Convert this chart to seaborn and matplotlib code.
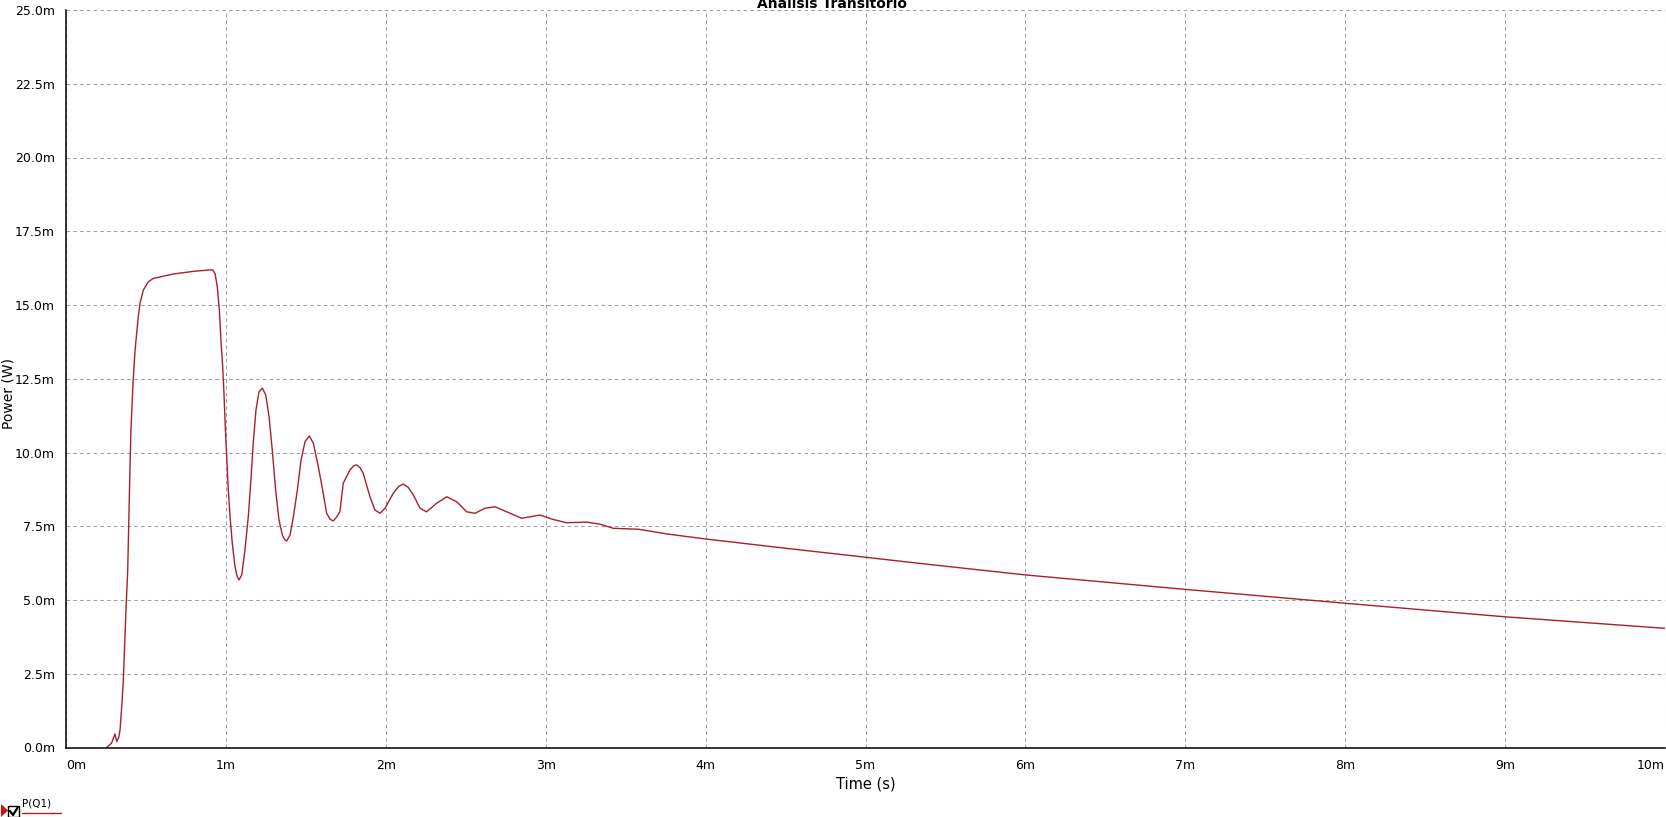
import matplotlib
matplotlib.use("Agg")
import matplotlib.pyplot as plt
import seaborn as sns
import pandas as pd
from matplotlib.patches import Polygon, Rectangle
from matplotlib.lines import Line2D

# ---- data (time in ms, power in mW) ----
time_ms = [0.254, 0.285, 0.306, 0.318, 0.330, 0.338, 0.350, 0.3585, 0.375, 0.386, 0.392,
           0.398, 0.406, 0.419, 0.432, 0.442, 0.452, 0.463, 0.484, 0.515, 0.546, 0.671, 0.796,
           0.901, 0.917, 0.932, 0.946, 0.959, 0.969, 0.980, 0.988, 0.996, 1.005, 1.015, 1.026,
           1.040, 1.057, 1.070, 1.082, 1.099, 1.119, 1.140, 1.155, 1.171, 1.188, 1.207, 1.228, 1.249,
           1.270, 1.290, 1.311, 1.332, 1.353, 1.367, 1.380, 1.401, 1.422, 1.447, 1.470, 1.495, 1.522,
           1.547, 1.578, 1.605, 1.630, 1.651, 1.672, 1.693, 1.713, 1.734, 1.776, 1.800, 1.818, 1.840, 1.859,
           1.901, 1.932, 1.964, 1.995, 2.047, 2.080, 2.109, 2.140, 2.172, 2.214, 2.255, 2.318, 2.381, 2.443,
           2.506, 2.558, 2.620, 2.683, 2.756, 2.850, 2.964, 3.047, 3.130, 3.256, 3.340, 3.423,
           3.579, 3.757, 3.998, 4.507, 4.999, 5.340, 6.000, 7.000, 7.405, 8.000, 9.000, 10.0]
power_mw = [0.0, 0.15, 0.46, 0.20, 0.35, 0.60, 1.50, 2.29, 4.66, 6.02, 7.49,
            8.96, 10.76, 12.35, 13.47, 14.04, 14.60, 15.06, 15.51, 15.79, 15.90, 16.05, 16.14,
            16.19, 16.19, 16.07, 15.62, 14.83, 13.81, 12.90, 12.00, 10.87, 9.86, 8.73, 7.82,
            6.92, 6.13, 5.80, 5.68, 5.85, 6.69, 7.82, 8.96, 10.31, 11.44, 12.06, 12.18, 11.95,
            11.21, 10.08, 8.73, 7.71, 7.20, 7.05, 7.00, 7.20, 7.82, 8.73, 9.75, 10.37, 10.56,
            10.31, 9.52, 8.73, 7.94, 7.74, 7.68, 7.82, 7.99, 8.96, 9.41, 9.55, 9.58, 9.48, 9.29,
            8.50, 8.05, 7.94, 8.11, 8.62, 8.85, 8.93, 8.82, 8.56, 8.11, 7.99, 8.28, 8.50, 8.33,
            7.99, 7.94, 8.11, 8.16, 7.99, 7.77, 7.88, 7.73, 7.62, 7.64, 7.57, 7.43,
            7.40, 7.24, 7.07, 6.75, 6.45, 6.24, 5.85, 5.36, 5.17, 4.89, 4.43, 4.04]

x_ticks = [0, 1, 2, 3, 4, 5, 6, 7, 8, 9, 10]
x_tick_labels = ["0m", "1m", "2m", "3m", "4m", "5m", "6m", "7m", "8m", "9m", "10m"]
y_ticks = [0, 2.5, 5, 7.5, 10, 12.5, 15, 17.5, 20, 22.5, 25]
y_tick_labels = ["0.0m", "2.5m", "5.0m", "7.5m", "10.0m", "12.5m", "15.0m", "17.5m",
                 "20.0m", "22.5m", "25.0m"]

title = "Análisis Transitorio"
x_label = "Time (s)"
y_label = "Power (W)"
series_name = "P(Q1)"

df = pd.DataFrame({"t": time_ms, "p": power_mw})

sns.set_theme(style="white")
plt.rcParams["font.family"] = ["DejaVu Sans"]

W, H = 1666, 817
fig = plt.figure(figsize=(W / 100, H / 100), dpi=100)
fig.patch.set_facecolor("white")
left, right, top, bottom = 66, 1665, 10, 747.5
ax = fig.add_axes([left / W, 1 - bottom / H, (right - left) / W, (bottom - top) / H])
ax.set_facecolor("white")

line_color = "#A8202A"
sns.lineplot(data=df, x="t", y="p", ax=ax, color=line_color, linewidth=1.0,
             estimator=None, sort=False, legend=False)

ax.set_xlim(0, 10)
ax.set_ylim(0, 25)
ax.set_xticks(x_ticks)
ax.set_xticklabels(x_tick_labels)
ax.set_yticks(y_ticks)
ax.set_yticklabels(y_tick_labels)
ax.set_xlabel("")
ax.set_ylabel("")

xl = ax.get_xticklabels()
xl[0].set_horizontalalignment("left")
xl[-1].set_horizontalalignment("right")

ax.tick_params(axis="both", which="major", direction="out", length=4, width=1,
               color="black", labelsize=9, labelcolor="black", pad=4)

ax.grid(True, color="#A0A0A0", linestyle=(0, (3.5, 3)), linewidth=0.75)
for s in ["top", "right"]:
    ax.spines[s].set_visible(False)
for s in ["left", "bottom"]:
    ax.spines[s].set_visible(True)
    ax.spines[s].set_color("black")
    ax.spines[s].set_linewidth(1.1)

# title (cut off at top, as in the reference)
fig.text(832 / W, 1 - 7.5 / H, title, ha="center", va="baseline",
         fontsize=10, fontweight="bold", color="black")

# axis labels
fig.text(865.5 / W, 1 - 784 / H, x_label, ha="center", va="center", fontsize=10.5, color="black")
fig.text(9 / W, 1 - 393 / H, y_label, ha="center", va="center", rotation=90,
         fontsize=10, color="black")

# legend entry at bottom-left
tri = Polygon([(1 / W, 1 - 804 / H), (1 / W, 1 - 817 / H), (8 / W, 1 - 810.5 / H)],
              closed=True, transform=fig.transFigure, facecolor="#D01010", edgecolor="none")
fig.patches.append(tri)
box = Rectangle((8 / W, 1 - 817 / H), 11 / W, 11 / H, transform=fig.transFigure,
                facecolor="white", edgecolor="black", linewidth=1.0)
fig.patches.append(box)
fig.lines.append(Line2D([10 / W, 13 / W, 18 / W], [1 - 811 / H, 1 - 815 / H, 1 - 807 / H],
                        transform=fig.transFigure, color="black", linewidth=1.6))
fig.text(22 / W, 1 - 804 / H, series_name, ha="left", va="center", fontsize=7.5, color="black")
fig.lines.append(Line2D([22 / W, 61 / W], [1 - 813 / H, 1 - 813 / H],
                        transform=fig.transFigure, color=line_color, linewidth=1.0))

fig.savefig("out.png", dpi=100, facecolor="white")
